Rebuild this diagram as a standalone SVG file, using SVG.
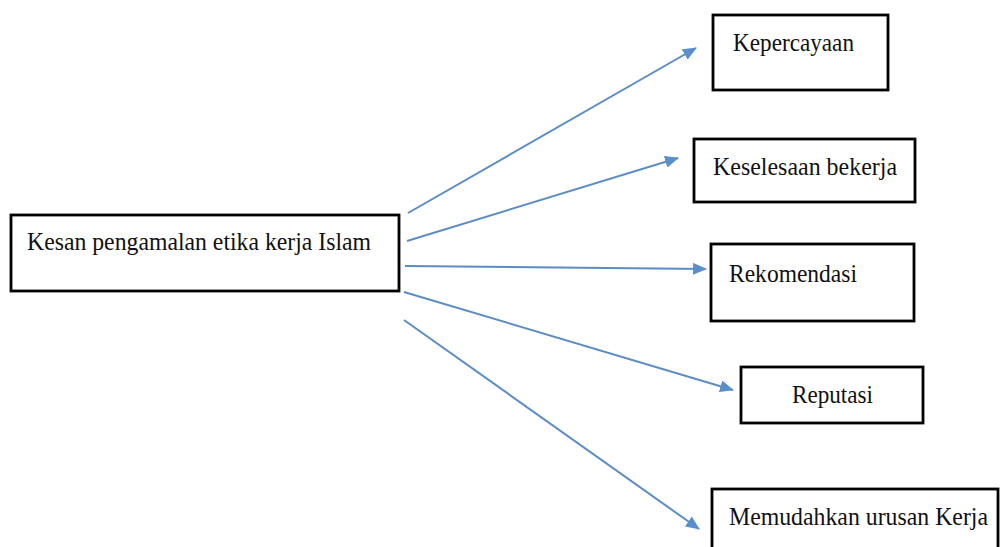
<svg xmlns="http://www.w3.org/2000/svg" width="1000" height="547" viewBox="0 0 1000 547">
  <style>
    .box { fill: #ffffff; stroke: #000000; stroke-width: 2.8; }
    .lbl { font-family: "Liberation Serif", "Times New Roman", serif; font-size: 25px; fill: #111111; }
    .conn { stroke: #5b8cc6; stroke-width: 2; fill: none; marker-end: url(#ah); }
  </style>
  <defs>
    <marker id="ah" markerUnits="userSpaceOnUse" markerWidth="14" markerHeight="12" refX="13" refY="6" orient="auto">
      <path d="M0,0 L14,6 L0,12 Z" fill="#5b8fcc"/>
    </marker>
  </defs>
  <rect width="1000" height="547" fill="#ffffff"/>
  <g id="connectors">
    <line class="conn" x1="408" y1="213" x2="696" y2="48"/>
    <line class="conn" x1="407" y1="241" x2="678" y2="158"/>
    <line class="conn" x1="405" y1="266" x2="706" y2="269"/>
    <line class="conn" x1="404" y1="292" x2="733" y2="390"/>
    <line class="conn" x1="404" y1="320" x2="699" y2="529"/>
  </g>
  <g id="node-main">
    <rect class="box" x="11" y="215" width="388" height="76"/>
    <text class="lbl" x="27" y="250" textLength="344" lengthAdjust="spacingAndGlyphs">Kesan pengamalan etika kerja Islam</text>
  </g>
  <g id="node-kepercayaan">
    <rect class="box" x="713" y="15" width="175" height="75"/>
    <text class="lbl" x="733" y="51" textLength="121" lengthAdjust="spacingAndGlyphs">Kepercayaan</text>
  </g>
  <g id="node-keselesaan">
    <rect class="box" x="694" y="139" width="221" height="63"/>
    <text class="lbl" x="713" y="175" textLength="184" lengthAdjust="spacingAndGlyphs">Keselesaan bekerja</text>
  </g>
  <g id="node-rekomendasi">
    <rect class="box" x="711" y="244" width="203" height="77"/>
    <text class="lbl" x="729" y="282" textLength="128" lengthAdjust="spacingAndGlyphs">Rekomendasi</text>
  </g>
  <g id="node-reputasi">
    <rect class="box" x="741" y="367" width="182" height="56"/>
    <text class="lbl" x="792" y="403" textLength="81" lengthAdjust="spacingAndGlyphs">Reputasi</text>
  </g>
  <g id="node-memudahkan">
    <rect class="box" x="712" y="489" width="286" height="70"/>
    <text class="lbl" x="729" y="525" textLength="259" lengthAdjust="spacingAndGlyphs">Memudahkan urusan Kerja</text>
  </g>
</svg>
